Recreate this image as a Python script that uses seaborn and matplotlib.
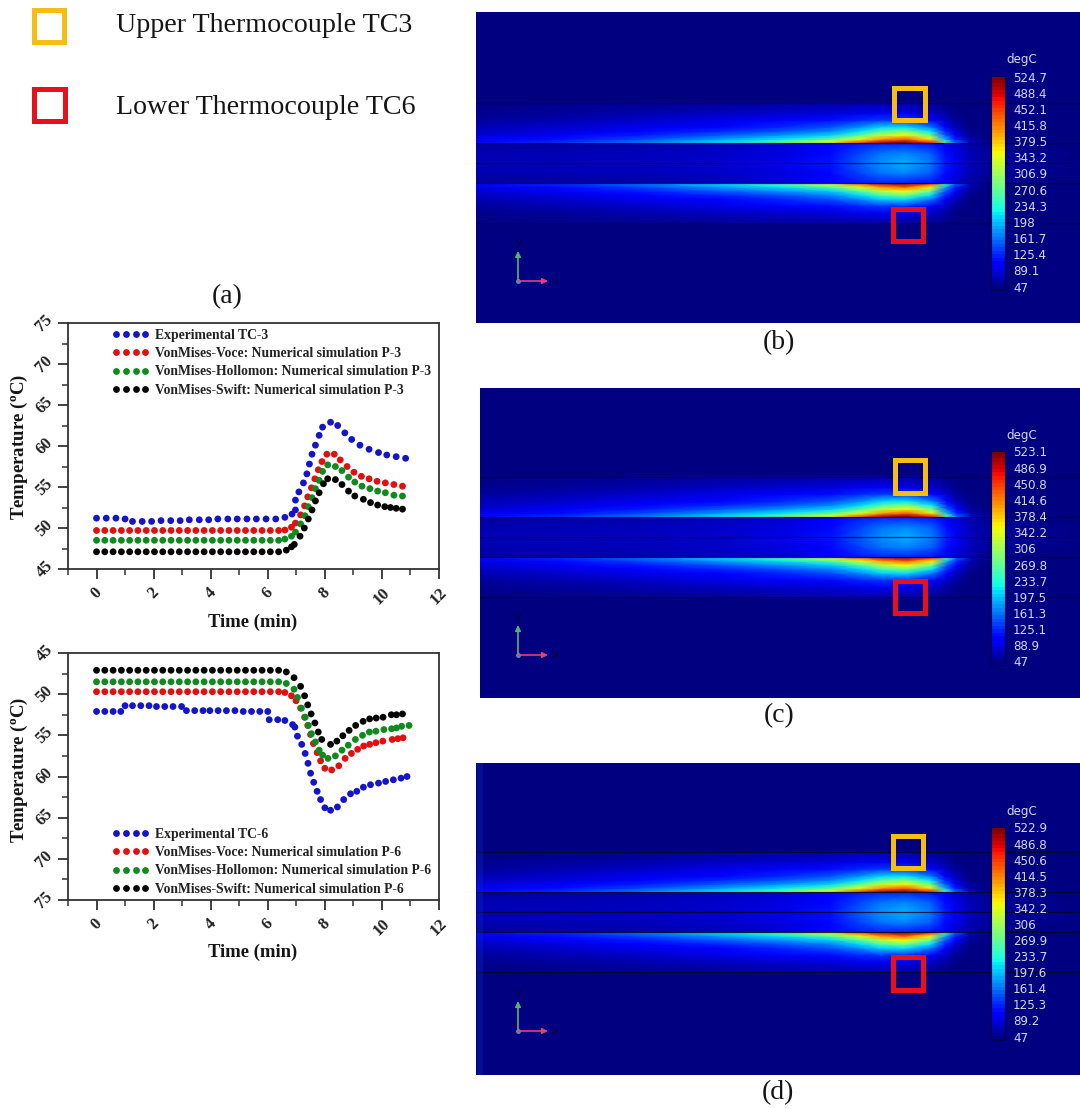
import numpy as np
import pandas as pd
import matplotlib
matplotlib.use('Agg')
import matplotlib.pyplot as plt
import seaborn as sns
from matplotlib.patches import Rectangle

# ---- line plots: values ----
flat_t = [0, .29, .58, .87, 1.16, 1.45, 1.74, 2.03, 2.32, 2.61, 2.9, 3.19, 3.48, 3.77, 4.06,
          4.35, 4.64, 4.93, 5.22, 5.51, 5.8, 6.09, 6.38]

tc3_exp_t = [0, .34, .68, 1.0, 1.26, 1.6, 1.93, 2.26, 2.6, 2.93, 3.25, 3.6, 3.93, 4.25, 4.6, 4.93, 5.27, 5.6,
             5.94, 6.28, 6.6, 6.85, 6.97, 6.97, 7.09, 7.25, 7.37, 7.46, 7.55, 7.67, 7.8, 7.92, 8.2, 8.45,
             8.7, 8.94, 9.23, 9.55, 9.88, 10.17, 10.5, 10.83]
tc3_exp_v = [51.2, 51.2, 51.2, 51.1, 50.8, 50.8, 50.8, 50.9, 50.9, 50.9, 51.0, 51.0, 51.0, 51.1, 51.1, 51.1, 51.1, 51.1,
             51.1, 51.1, 51.3, 51.7, 52.2, 53.4, 54.4, 55.5, 56.6, 57.8, 59.0, 60.1, 61.3, 62.3, 62.9, 62.5,
             61.6, 60.8, 60.1, 59.6, 59.2, 58.9, 58.7, 58.5]
tc3_voce_t = flat_t + [6.6, 6.83, 6.97, 7.15, 7.29, 7.4, 7.53, 7.65, 7.77, 7.9, 8.07, 8.33, 8.54, 8.78, 9.02, 9.28,
                       9.55, 9.83, 10.12, 10.42, 10.72]
tc3_voce_v = [49.7] * 23 + [49.75, 50.1, 50.6, 51.6, 52.7, 53.8, 54.9, 56.0, 57.1, 58.1, 59.0, 59.0, 58.3, 57.5, 56.8,
                            56.3, 56.0, 55.7, 55.5, 55.3, 55.1]
tc3_holl_t = flat_t + [6.6, 6.83, 6.97, 7.15, 7.3, 7.42, 7.55, 7.67, 7.8, 7.92, 8.1, 8.37, 8.6, 8.83, 9.05, 9.3,
                       9.58, 9.85, 10.12, 10.42, 10.72]
tc3_holl_v = [48.5] * 23 + [48.65, 49.0, 49.5, 50.5, 51.5, 52.6, 53.7, 54.8, 55.8, 56.9, 57.7, 57.5, 57.0, 56.2, 55.6,
                            55.1, 54.8, 54.5, 54.3, 54.0, 53.9]
tc3_swift_t = flat_t + [6.65, 6.83, 6.93, 7.13, 7.28, 7.42, 7.55, 7.67, 7.8, 7.95, 8.1, 8.37, 8.6, 8.83, 9.05, 9.35,
                        9.6, 9.85, 10.1, 10.3, 10.5, 10.72]
tc3_swift_v = [47.1] * 23 + [47.3, 47.7, 48.0, 49.0, 50.0, 51.1, 52.2, 53.3, 54.3, 55.4, 56.0, 55.9, 55.3, 54.5, 53.9,
                             53.5, 53.1, 52.8, 52.6, 52.5, 52.4, 52.3]

tc6_exp_t = [0, .29, .58, .85, 1.0, 1.26, 1.55, 1.84, 2.1, 2.39, 2.68, 2.98, 3.15, 3.44, 3.73, 3.97, 4.26, 4.55,
             4.85, 5.14, 5.43, 5.72, 6.0, 6.05, 6.35, 6.6, 6.87, 6.95, 7.04, 7.19, 7.31, 7.41, 7.5, 7.61,
             7.73, 7.85, 8.0, 8.2, 8.44, 8.66, 8.9, 9.12, 9.35, 9.6, 9.88, 10.13, 10.4, 10.67, 10.88]
tc6_exp_v = [52.1, 52.1, 52.1, 52.1, 51.4, 51.4, 51.4, 51.4, 51.5, 51.5, 51.5, 51.5, 52.0, 52.0, 52.0, 52.0, 52.0, 52.0,
             52.0, 52.1, 52.1, 52.1, 52.1, 53.1, 53.1, 53.2, 53.7, 54.0, 55.1, 56.1, 57.2, 58.4, 59.6, 60.7,
             61.8, 62.8, 63.8, 64.1, 63.7, 62.8, 62.1, 61.8, 61.3, 61.0, 60.8, 60.6, 60.4, 60.2, 60.0]
tc6_voce_t = flat_t + [6.6, 6.83, 6.99, 7.15, 7.29, 7.4, 7.5, 7.6, 7.73, 7.85, 8.0, 8.24, 8.49, 8.71, 8.93, 9.15,
                       9.36, 9.57, 9.79, 10.03, 10.36, 10.56, 10.74]
tc6_voce_v = [49.7] * 23 + [49.8, 50.2, 50.8, 51.7, 52.8, 53.8, 54.9, 56.0, 57.1, 58.1, 59.0, 59.2, 58.7, 57.8, 57.2,
                            56.7, 56.3, 56.1, 55.9, 55.7, 55.5, 55.4, 55.3]
tc6_holl_t = flat_t + [6.65, 6.92, 7.04, 7.18, 7.31, 7.42, 7.53, 7.67, 7.8, 7.92, 8.11, 8.37, 8.6, 8.82, 9.07, 9.32,
                       9.56, 9.79, 10.07, 10.34, 10.51, 10.69, 10.95]
tc6_holl_v = [48.5] * 23 + [48.7, 49.4, 50.4, 51.7, 52.8, 53.8, 54.8, 55.8, 56.8, 57.4, 57.8, 57.5, 56.8, 56.2, 55.5,
                            55.0, 54.6, 54.5, 54.3, 54.2, 54.1, 53.9, 53.8]
tc6_swift_t = flat_t + [6.65, 6.92, 7.15, 7.29, 7.4, 7.52, 7.65, 7.77, 7.89, 8.2, 8.42, 8.63, 8.85, 9.08, 9.34,
                        9.57, 9.8, 10.04, 10.33, 10.51, 10.72]
tc6_swift_v = [47.1] * 23 + [47.3, 48.0, 49.05, 50.2, 51.3, 52.4, 53.5, 54.6, 55.5, 56.1, 55.7, 55.05, 54.4, 53.8, 53.3,
                             53.0, 52.9, 52.8, 52.5, 52.5, 52.4]

series_colors = ['#1414C8', '#E01010', '#0E8A1E', '#050505']
x_ticks = [0, 2, 4, 6, 8, 10, 12]
y_ticks = [45, 50, 55, 60, 65, 70, 75]

# ---- temperature field: degC read by eye from colours in the contour pictures ----
field_x = [-435, -345, -265, -185, -125, -75, -45, -25, 0, 25, 40, 50, 65, 85, 180]
field_d = [0, 10, 19.5, 20.5, 24, 28, 32, 36, 43, 50, 60, 62, 172]
field_vals = [
    [70, 72, 75, 80, 90, 115, 150, 175, 190, 165, 120, 95, 72, 60, 50],
    [68, 70, 72, 78, 88, 110, 140, 160, 170, 150, 112, 92, 70, 58, 49],
    [60, 62, 65, 72, 82, 100, 118, 125, 125, 115, 95, 80, 65, 53, 47],
    [105, 130, 165, 215, 270, 350, 440, 500, 524, 470, 270, 160, 80, 50, 47],
    [92, 112, 140, 178, 215, 265, 340, 400, 435, 360, 190, 120, 65, 48, 47],
    [82, 98, 118, 148, 175, 205, 265, 320, 355, 280, 150, 100, 58, 47, 47],
    [74, 88, 104, 125, 145, 170, 210, 255, 285, 215, 125, 85, 52, 47, 47],
    [68, 80, 92, 108, 125, 145, 175, 205, 215, 165, 105, 72, 50, 47, 47],
    [60, 68, 78, 90, 100, 112, 125, 132, 130, 110, 78, 60, 48, 47, 47],
    [54, 60, 66, 74, 80, 86, 92, 94, 90, 78, 62, 52, 47, 47, 47],
    [50, 54, 56, 60, 62, 64, 66, 66, 64, 58, 52, 48, 47, 47, 47],
    [47, 47, 47, 47, 47, 47, 47, 47, 47, 47, 47, 47, 47, 47, 47],
    [47, 47, 47, 47, 47, 47, 47, 47, 47, 47, 47, 47, 47, 47, 47],
]
layer_d = [-60, -20, 0, 20, 60]

labels_b = ['524.7', '488.4', '452.1', '415.8', '379.5', '343.2', '306.9', '270.6', '234.3', '198', '161.7', '125.4', '89.1', '47']
labels_c = ['523.1', '486.9', '450.8', '414.6', '378.4', '342.2', '306', '269.8', '233.7', '197.5', '161.3', '125.1', '88.9', '47']
labels_d = ['522.9', '486.8', '450.6', '414.5', '378.3', '342.2', '306', '269.9', '233.7', '197.6', '161.4', '125.3', '89.2', '47']

W, H = 1080, 1109

sns.set_theme(style='ticks')
plt.rcParams['font.family'] = ['Liberation Serif', 'DejaVu Serif']
plt.rcParams['mathtext.default'] = 'regular'

fig = plt.figure(figsize=(W / 100, H / 100), dpi=100, facecolor='white')


def px_axes(left, top, right, bottom, **kw):
    return fig.add_axes([left / W, 1 - bottom / H, (right - left) / W, (bottom - top) / H], **kw)


def line_panel(top, bottom, tables, names, ylim, legend_top):
    ax = px_axes(68, top, 439, bottom)
    frames = []
    for (t, v), name in zip(tables, names):
        frames.append(pd.DataFrame({'time': t, 'temp': v, 'series': name}))
    df = pd.concat(frames)
    sns.scatterplot(data=df, x='time', y='temp', hue='series', palette=series_colors, s=24,
                    linewidth=0, ax=ax, legend=True, clip_on=False)
    ax.set_xlim(-1, 12)
    ax.set_ylim(*ylim)
    ax.set_xticks(x_ticks)
    ax.set_yticks(y_ticks)
    ax.set_xticks([-1, 1, 3, 5, 7, 9, 11], minor=True)
    ax.set_yticks([47.5, 52.5, 57.5, 62.5, 67.5, 72.5], minor=True)
    ax.tick_params(which='major', length=7, width=1.3, color='#333333')
    ax.tick_params(which='minor', length=4, width=1.1, color='#333333')
    plt.setp(ax.get_xticklabels(), rotation=45, ha='center', fontweight='bold', fontsize=12, color='#222222')
    plt.setp(ax.get_yticklabels(), rotation=45, va='center', ha='center', fontweight='bold', fontsize=12, color='#222222')
    ax.tick_params(axis='y', pad=10)
    ax.tick_params(axis='x', pad=4)
    for sp in ax.spines.values():
        sp.set_visible(True)
        sp.set_linewidth(1.3)
        sp.set_color('#333333')
    ax.set_xlabel('')
    ax.set_ylabel('')
    leg = ax.legend(numpoints=4, frameon=False, loc='upper left',
                    bbox_to_anchor=((112 - 68) / 371, 1 - (legend_top - top) / (bottom - top)),
                    borderaxespad=0, borderpad=0, labelspacing=0.38, handlelength=2.74, handletextpad=0.43,
                    prop={'family': 'Liberation Serif', 'weight': 'bold', 'size': 9.8})
    for txt in leg.get_texts():
        txt.set_color('#222222')
    return ax


def field_panel(left, top, bottom, center_x, center_y):
    ax = px_axes(left, top, W, bottom)
    d = np.array(field_d, dtype=float)
    vals = np.array(field_vals, dtype=float)
    y = np.concatenate([-d[:0:-1], d])
    c = np.vstack([vals[:0:-1], vals])
    xx, yy = np.meshgrid(field_x, y)
    ax.pcolormesh(xx, yy, c, shading='gouraud', cmap='jet', vmin=47, vmax=525, rasterized=True)
    ax.set_xlim(left - center_x, W - center_x)
    ax.set_ylim(center_y - bottom, center_y - top)
    ax.hlines(layer_d, left - center_x, W - center_x, color='#050520', lw=0.9, alpha=0.8, snap=True)
    ax.axis('off')
    return ax


def scale_bar(top, bottom, labels, degc_y):
    cax = px_axes(991, top, 1005, bottom)
    sm = plt.cm.ScalarMappable(norm=plt.Normalize(47, 525), cmap=plt.get_cmap('jet', 60))
    cb = fig.colorbar(sm, cax=cax, ticks=[])
    cb.outline.set_edgecolor('#000050')
    cb.outline.set_linewidth(0.8)
    ys = np.linspace(top + 2, bottom - 2, len(labels))
    for lab, yp in zip(labels, ys):
        ov.text(1013, yp, lab, color='#D5D5EC', fontsize=8.6, family='DejaVu Sans', va='center', ha='left')
    ov.text(1006, degc_y, 'degC', color='#D5D5EC', fontsize=8.6, family='DejaVu Sans', va='center', ha='left')


def square(ax, left, top, right, bottom, color, lw=5):
    ax.add_patch(Rectangle((left + lw / 2, top + lw / 2), right - left - lw, bottom - top - lw,
                           fill=False, edgecolor=color, lw=lw * 0.72, joinstyle='miter', zorder=5))


def triad(ax, x0, y0):
    ax.annotate('', xy=(x0, y0 - 30), xytext=(x0, y0),
                arrowprops=dict(arrowstyle='-|>', color='#58B070', lw=1.2, mutation_scale=8, shrinkA=0, shrinkB=0))
    ax.annotate('', xy=(x0 + 30, y0), xytext=(x0, y0),
                arrowprops=dict(arrowstyle='-|>', color='#E0407A', lw=1.2, mutation_scale=8, shrinkA=0, shrinkB=0))
    ax.plot([x0], [y0], 'o', ms=2.5, color='#5090D0')
    ax.text(x0 + 1, y0 - 38, 'y', color='#05052A', fontsize=7, family='DejaVu Sans', ha='center', va='center')
    ax.text(x0 + 38, y0, 'x', color='#05052A', fontsize=7, family='DejaVu Sans', ha='center', va='center')


names_a = ['Experimental TC-3', 'VonMises-Voce: Numerical simulation P-3',
           'VonMises-Hollomon: Numerical simulation P-3', 'VonMises-Swift: Numerical simulation P-3']
names_b = ['Experimental TC-6', 'VonMises-Voce: Numerical simulation P-6',
           'VonMises-Hollomon: Numerical simulation P-6', 'VonMises-Swift: Numerical simulation P-6']

line_panel(323, 569, [(tc3_exp_t, tc3_exp_v), (tc3_voce_t, tc3_voce_v), (tc3_holl_t, tc3_holl_v),
                      (tc3_swift_t, tc3_swift_v)], names_a, (45, 75), 329)
line_panel(653, 900, [(tc6_exp_t, tc6_exp_v), (tc6_voce_t, tc6_voce_v), (tc6_holl_t, tc6_holl_v),
                      (tc6_swift_t, tc6_swift_v)], names_b, (75, 45), 828)

field_panel(476, 12, 323, 905, 163)
field_panel(480, 388, 698, 907, 537)
field_panel(476, 763, 1075, 905, 912)

# overlay in picture pixels for the frames and text
ov = fig.add_axes([0, 0, 1, 1], facecolor='none', zorder=10)
ov.set_xlim(0, W)
ov.set_ylim(H, 0)
ov.axis('off')

scale_bar(76, 290, labels_b, 60)
scale_bar(451, 665, labels_c, 436)
scale_bar(827, 1040, labels_d, 811)

yellow, red = '#F5BE12', '#E8101C'
square(ov, 31, 7, 66, 44, yellow)
square(ov, 31, 86, 67, 123, red)
square(ov, 891, 85, 927, 122, yellow)
square(ov, 890, 206, 925, 243, red)
square(ov, 892, 457, 927, 495, yellow)
square(ov, 892, 578, 927, 615, red)
square(ov, 890, 833, 925, 870, yellow)
square(ov, 890, 954, 925, 992, red)

triad(ov, 518, 281)
triad(ov, 518, 655)
triad(ov, 518, 1031)
ov.add_patch(Rectangle((477, 763), 6, 312, color='#1030C0', alpha=0.3, lw=0))

ov.text(116, 32, 'Upper Thermocouple TC3', fontsize=20.2, color='#151515', va='baseline')
ov.text(116, 114, 'Lower Thermocouple TC6', fontsize=20.2, color='#151515', va='baseline')
for lab, xp, yp in [('(a)', 227, 297), ('(b)', 779, 343), ('(c)', 779, 716), ('(d)', 778, 1093)]:
    ov.text(xp, yp, lab, fontsize=20, color='#151515', ha='center', va='center')
for yp in [622, 952]:
    ov.text(253, yp, 'Time (min)', fontsize=13.4, fontweight='bold', color='#151515', ha='center', va='center')
for yp in [447, 770]:
    ov.text(19, yp, 'Temperature ($^{o}$C)', fontsize=13.6, fontweight='bold', color='#151515',
            rotation=90, ha='center', va='center')

fig.savefig('out.png', dpi=100, facecolor='white')
